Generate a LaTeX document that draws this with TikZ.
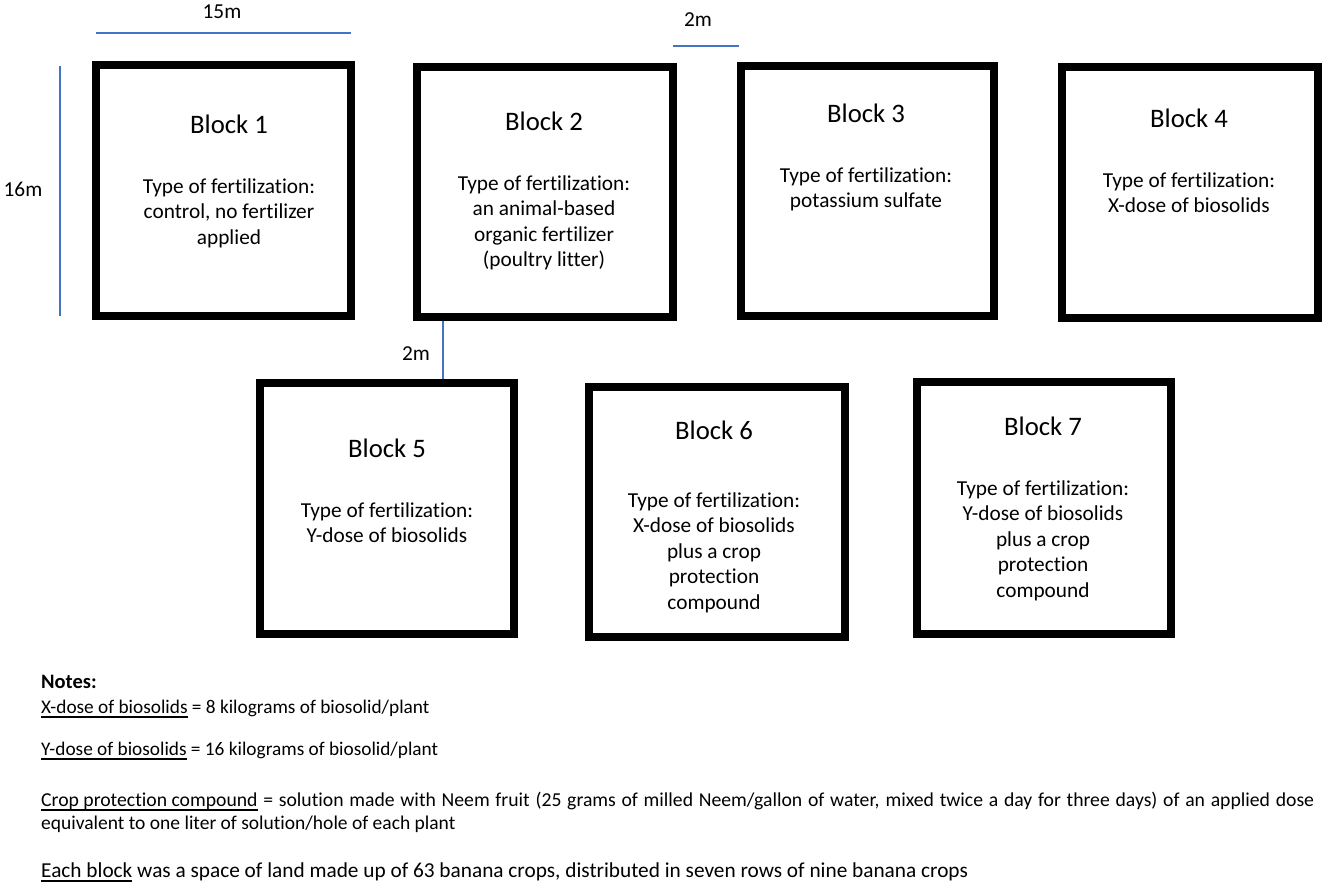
\documentclass[tikz,border=0pt]{standalone}
\usepackage{fontspec}
\setmainfont{Carlito}[Ligatures=NoCommon]
\newcommand\myul[1]{\setbox0\hbox{#1}\rlap{\vrule width\wd0 height -3.0pt depth 5.4pt}\box0\relax}
\definecolor{dimblue}{HTML}{4472C4}
\begin{document}
\begin{tikzpicture}[x=1pt,y=-1pt,
  blockbox/.style={draw=black, line width=8pt, inner sep=0pt, outer sep=4pt},
  ttl/.style={anchor=base, font=\fontsize{26.7}{32}\selectfont, inner sep=0pt},
  bodytxt/.style={anchor=base, font=\fontsize{21.3}{25.5}\selectfont, inner sep=0pt},
  notetxt/.style={anchor=base west, inner sep=0pt},
  dimline/.style={draw=dimblue, line width=1.5pt}]
\useasboundingbox (0,0) rectangle (1325,886);
\fill[white] (0,0) rectangle (1325,886);

% blocks
\node[blockbox, minimum width=255pt, minimum height=251pt] (b1) at (223.5,190.5) {};
\node[blockbox, minimum width=256pt, minimum height=250pt] (b2) at (545,192) {};
\node[blockbox, minimum width=253pt, minimum height=250pt] (b3) at (867.5,191) {};
\node[blockbox, minimum width=256pt, minimum height=251pt] (b4) at (1190,192.5) {};
\node[blockbox, minimum width=254pt, minimum height=251pt] (b5) at (387,508.5) {};
\node[blockbox, minimum width=256pt, minimum height=250pt] (b6) at (717,512) {};
\node[blockbox, minimum width=254pt, minimum height=252pt] (b7) at (1044,508) {};

% block texts
\node[ttl] (t1) at (229,133) {Block 1};
\node[bodytxt] (t1a) at (229,193) {Type of fertilization:};
\node[bodytxt] (t1b) at (229,218.5) {control, no fertilizer};
\node[bodytxt] (t1c) at (229,244) {applied};

\node[ttl] (t2) at (544,130) {Block 2};
\node[bodytxt] (t2a) at (544,190) {Type of fertilization:};
\node[bodytxt] (t2b) at (544,215.5) {an animal-based};
\node[bodytxt] (t2c) at (544,241) {organic fertilizer};
\node[bodytxt] (t2d) at (544,266.5) {(poultry litter)};

\node[ttl] (t3) at (866,122) {Block 3};
\node[bodytxt] (t3a) at (866,182) {Type of fertilization:};
\node[bodytxt] (t3b) at (866,207) {potassium sulfate};

\node[ttl] (t4) at (1189,127) {Block 4};
\node[bodytxt] (t4a) at (1189,187) {Type of fertilization:};
\node[bodytxt] (t4b) at (1189,212) {X-dose of biosolids};

\node[ttl] (t5) at (387,457) {Block 5};
\node[bodytxt] (t5a) at (387,517) {Type of fertilization:};
\node[bodytxt] (t5b) at (387,542) {Y-dose of biosolids};

\node[ttl] (t6) at (714,439) {Block 6};
\node[bodytxt] (t6a) at (714,507) {Type of fertilization:};
\node[bodytxt] (t6b) at (714,532.5) {X-dose of biosolids};
\node[bodytxt] (t6c) at (714,558) {plus a crop};
\node[bodytxt] (t6d) at (714,583.5) {protection};
\node[bodytxt] (t6e) at (714,609) {compound};

\node[ttl] (t7) at (1043,435) {Block 7};
\node[bodytxt] (t7a) at (1043,495) {Type of fertilization:};
\node[bodytxt] (t7b) at (1043,520.5) {Y-dose of biosolids};
\node[bodytxt] (t7c) at (1043,546) {plus a crop};
\node[bodytxt] (t7d) at (1043,571.5) {protection};
\node[bodytxt] (t7e) at (1043,597) {compound};

% dimension lines
\coordinate (w1) at (96,33);
\coordinate (w2) at (351,33);
\draw[dimline] (w1) -- (w2);
\node[bodytxt] (d15) at (222,19) {15m};

\coordinate (h1) at (60,66);
\coordinate (h2) at (60,316);
\draw[dimline] (h1) -- (h2);
\node[bodytxt] (d16) at (23,196) {16m};

\coordinate (g1) at (673,46);
\coordinate (g2) at (739,46);
\draw[dimline] (g1) -- (g2);
\node[bodytxt] (d2a) at (698,27) {2m};

\coordinate (vx) at (443,0);
\draw[dimline] (b2.south -| vx) -- (b5.north -| vx);
\node[bodytxt] (d2b) at (416,360) {2m};

% notes
\node[notetxt, font=\fontsize{20.5}{24}\selectfont] (n0) at (41,688) {\textbf{Notes:}};
\node[notetxt, font=\fontsize{19.3}{23}\selectfont] (n1) at (41,713) {\myul{X-dose of biosolids} = 8 kilograms of biosolid/plant};
\node[notetxt, font=\fontsize{19.3}{23}\selectfont] (n2) at (41,755) {\myul{Y-dose of biosolids} = 16 kilograms of biosolid/plant};
\node[notetxt, font=\fontsize{19.7}{23}\selectfont] (n3) at (41,806) {\hbox to 1273pt{\myul{Crop protection compound} = solution made with Neem fruit (25 grams of milled Neem/gallon of water, mixed twice a day for three days) of an applied dose}};
\node[notetxt, font=\fontsize{19.5}{23}\selectfont] (n4) at (41,829) {equivalent to one liter of solution/hole of each plant};
\node[notetxt, font=\fontsize{21.3}{25}\selectfont] (n5) at (41,877) {\myul{Each block} was a space of land made up of 63 banana crops, distributed in seven rows of nine banana crops};
\end{tikzpicture}
\end{document}
